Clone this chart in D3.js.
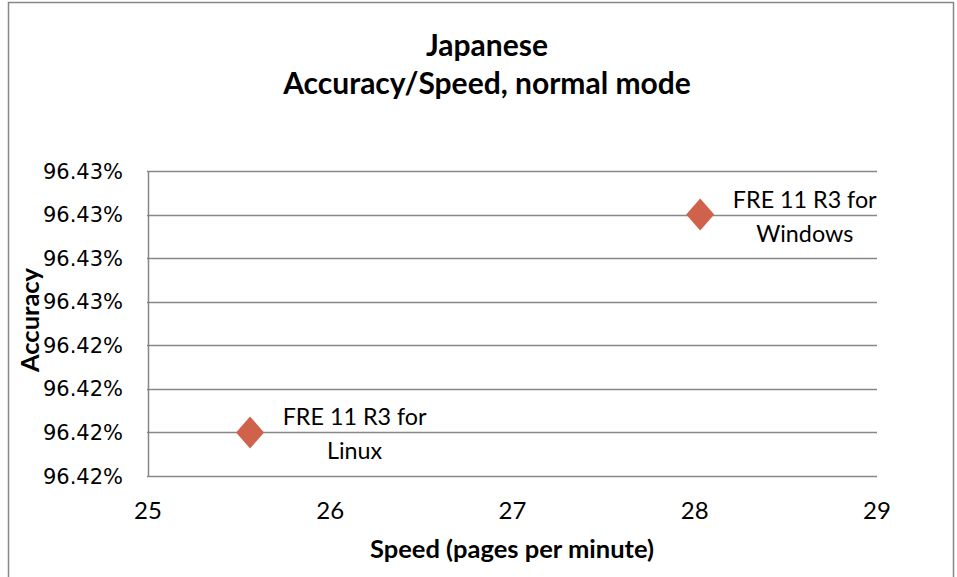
<!DOCTYPE html>
<html><head><meta charset="utf-8">
<script src="https://cdn.jsdelivr.net/npm/d3@7"></script>
<style>
body{margin:0;background:#fff;}
svg{display:block;}
</style></head>
<body>
<svg id="chart" width="957" height="577"></svg>
<script>
const titleLines = ["Japanese", "Accuracy/Speed, normal mode"];
const xTitle = "Speed (pages per minute)";
const yTitle = "Accuracy";
const names = [["FRE 11 R3 for", "Linux"], ["FRE 11 R3 for", "Windows"]];
const speed = [25.56, 28.03];
const accuracy = [0.96420, 0.96430];
const xTicks = [25, 26, 27, 28, 29];
const yTicks = [0.96418, 0.96420, 0.96422, 0.96424, 0.96426, 0.96428, 0.96430, 0.96432];

const narrow = "Lato, 'Open Sans', sans-serif";
const svg = d3.select("#chart");
const m = {left:148, right:877, top:171, bottom:476};

svg.append("rect").attr("x",8.5).attr("y",2.5).attr("width",945).attr("height",590)
  .attr("fill","#fff").attr("stroke","#878787").attr("stroke-width",1.5);

const x = d3.scaleLinear().domain([25,29]).range([m.left,m.right]);
const y = d3.scaleLinear().domain([0.96418,0.96432]).range([m.bottom,m.top]);

// gridlines
svg.append("g").selectAll("line").data(yTicks).join("line")
  .attr("x1",m.left-1).attr("x2",m.right)
  .attr("y1",d=>Math.round(y(d))+0.5).attr("y2",d=>Math.round(y(d))+0.5)
  .attr("stroke","#878787").attr("stroke-width",1.5);

// y axis line
svg.append("line").attr("x1",m.left+0.5).attr("x2",m.left+0.5)
  .attr("y1",m.top).attr("y2",m.bottom+1).attr("stroke","#878787").attr("stroke-width",1.5);

// y tick labels
svg.append("g").selectAll("text").data(yTicks).join("text")
  .attr("x",123).attr("y",d=>y(d)).attr("dy","0.36em")
  .attr("text-anchor","end").attr("font-family","'DejaVu Sans', sans-serif")
  .attr("font-size",21).attr("fill","#000")
  .text(d=>d3.format(".2%")(d));

// x tick labels
svg.append("g").selectAll("text").data(xTicks).join("text")
  .attr("x",d=>x(d)).attr("y",519)
  .attr("text-anchor","middle").attr("font-family",narrow)
  .attr("font-size",24).attr("fill","#000")
  .text(d=>d);

// titles
svg.append("g").selectAll("text").data(titleLines).join("text")
  .attr("x",487).attr("y",(d,i)=>56+i*38)
  .attr("text-anchor","middle").attr("font-family",narrow)
  .attr("font-weight","bold").attr("font-size",30).attr("fill","#000")
  .text(d=>d);

svg.append("text").attr("x",512).attr("y",558).attr("text-anchor","middle")
  .attr("font-family",narrow).attr("font-weight","bold").attr("font-size",25.5)
  .text(xTitle);

svg.append("text").attr("transform","translate(39,320) rotate(-90)")
  .attr("text-anchor","middle").attr("font-family",narrow)
  .attr("font-weight","bold").attr("font-size",25.5).text(yTitle);

// points
const pts = speed.map((s,i)=>({s, a:accuracy[i], name:names[i]}));
const diamond = "M0,-16L14,0L0,16L-14,0Z";
svg.append("g").selectAll("path").data(pts).join("path")
  .attr("transform",d=>`translate(${x(d.s)},${y(d.a)})`)
  .attr("d",diamond).attr("fill","#D0614A");

// labels
const lg = svg.append("g").selectAll("g").data(pts).join("g")
  .attr("transform",d=>`translate(${x(d.s)+104.5},${y(d.a)})`);
lg.selectAll("text").data(d=>d.name).join("text")
  .attr("x",0).attr("y",(d,i)=>i===0?-7:27)
  .attr("text-anchor","middle").attr("font-family",narrow)
  .attr("font-size",23.3).attr("fill","#000").text(d=>d);
</script>
</body></html>
